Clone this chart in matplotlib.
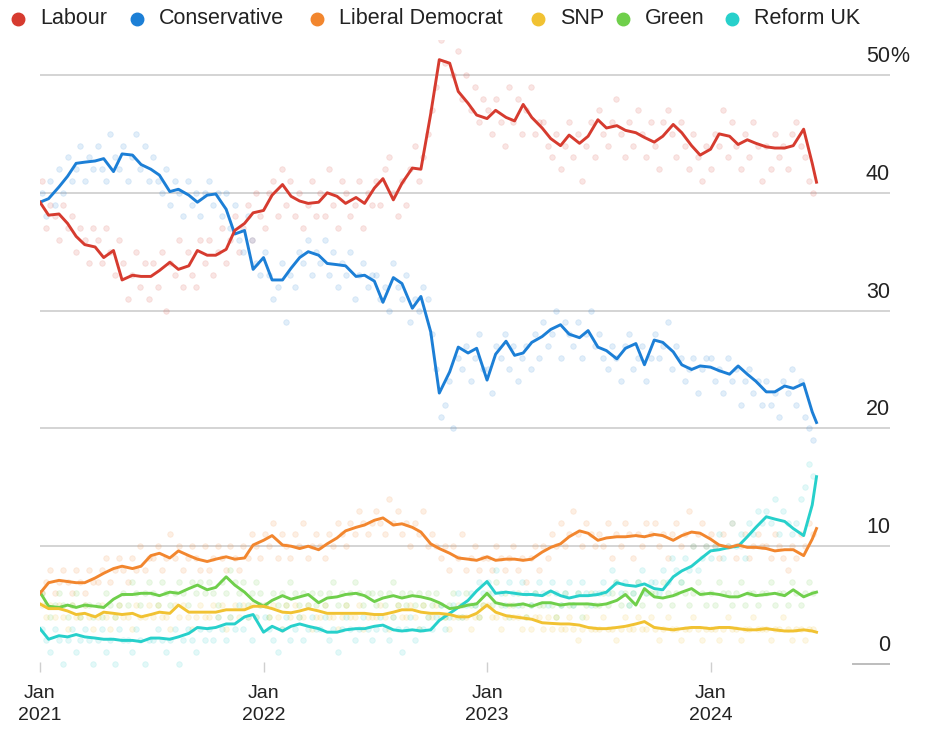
import matplotlib.pyplot as plt
import matplotlib.transforms as mtransforms
import pandas as pd

plt.rcParams['font.family'] = ['Liberation Sans', 'DejaVu Sans']

# semi-monthly readings of the polling averages, plus the final day
dates = list(pd.date_range('2021-01-01', '2024-06-15', freq='SMS')) + [pd.Timestamp('2024-06-22')]

labour = [39.2, 38.1, 38.2, 37.4, 36.3, 35.6, 35.4, 34.5, 35.1, 32.6, 33.0, 32.9, 32.9, 33.4,
          34.1, 33.5, 33.8, 35.1, 34.7, 34.7, 35.2, 36.8, 37.4, 38.3, 38.5, 39.8, 40.7, 39.7,
          39.3, 39.1, 39.2, 40.0, 39.7, 39.1, 39.6, 39.1, 40.4, 41.2, 39.4, 40.8, 42.1, 42.0,
          46.7, 51.3, 51.0, 48.6, 47.6, 46.6, 46.3, 47.0, 46.4, 46.1, 47.5, 46.4, 45.5,
          44.6, 44.0, 44.9, 44.2, 44.8, 46.2, 45.5, 45.7, 45.3, 45.1, 44.7, 44.3, 44.8, 45.8,
          45.1, 44.0, 43.2, 43.7, 45.0, 44.8, 44.1, 44.5, 44.2, 43.9, 43.8, 43.8, 44.0, 45.4,
          42.5, 40.9]
conservative = [39.2, 39.5, 40.5, 41.4, 42.5, 42.6, 42.7, 42.9, 41.8, 43.3, 43.2, 42.4, 42.0, 41.5,
                40.1, 40.3, 39.8, 39.2, 39.8, 39.9, 38.6, 36.5, 36.8, 33.5, 34.5, 32.6, 32.6, 33.6,
                34.5, 35.0, 34.7, 34.0, 33.9, 33.8, 32.9, 33.0, 32.5, 30.7, 32.8, 32.3, 30.2, 31.2,
                28.2, 23.0, 24.8, 26.9, 26.4, 26.8, 24.1, 26.3, 27.4, 26.2, 26.4, 27.3, 27.8,
                28.4, 28.8, 28.0, 27.7, 28.3, 26.9, 26.6, 25.9, 26.8, 27.2, 25.4, 27.5, 27.3, 26.5,
                25.4, 25.0, 25.3, 25.2, 24.9, 24.6, 25.3, 24.6, 24.0, 23.1, 23.1, 23.6, 23.4, 23.8,
                21.4, 20.5]
lib_dem = [6.0, 6.9, 7.1, 7.0, 6.9, 6.9, 7.3, 7.7, 8.1, 8.3, 8.1, 8.3, 9.2, 9.4,
           9.0, 9.6, 9.2, 8.9, 8.7, 8.9, 9.1, 8.9, 9.0, 10.1, 10.5, 10.9, 10.1, 10.0,
           9.8, 10.0, 9.7, 10.2, 10.7, 11.3, 11.6, 11.8, 12.2, 12.4, 11.8, 11.9, 11.6, 11.2,
           10.2, 9.8, 9.4, 9.0, 8.9, 8.8, 9.1, 8.8, 8.9, 8.9, 8.8, 8.9, 9.5,
           9.9, 10.2, 10.8, 11.3, 11.1, 10.5, 10.7, 10.8, 10.8, 10.9, 10.8, 11.0, 10.9, 10.5,
           10.9, 11.2, 11.1, 10.6, 10.1, 9.9, 10.1, 9.9, 9.9, 9.8, 9.6, 9.7, 9.7, 9.2,
           10.6, 11.5]
snp = [5.1, 4.7, 4.7, 4.5, 4.2, 4.3, 4.0, 4.4, 4.3, 4.2, 4.3, 4.0, 4.2, 4.4,
       4.3, 5.0, 4.4, 4.4, 4.4, 4.4, 4.6, 4.6, 4.6, 4.9, 4.9, 4.7, 4.4, 4.35,
       4.5, 4.7, 4.5, 4.3, 4.3, 4.3, 4.3, 4.3, 4.2, 4.2, 4.4, 4.6, 4.6, 4.4,
       4.3, 4.3, 4.2, 4.0, 4.0, 4.3, 5.0, 4.4, 4.1, 4.0, 3.9, 3.8, 3.5,
       3.45, 3.4, 3.4, 3.3, 3.1, 3.0, 3.0, 3.1, 3.2, 3.4, 3.6, 3.1, 3.0, 2.9,
       3.0, 3.1, 3.1, 3.0, 3.1, 3.1, 3.0, 2.9, 2.9, 3.0, 2.9, 2.8, 2.8, 2.9,
       2.8, 2.7]
green = [6.1, 4.9, 4.8, 5.0, 4.8, 5.0, 4.9, 4.8, 5.5, 5.9, 5.9, 6.0, 6.0, 5.8,
         6.1, 6.0, 6.4, 6.7, 6.3, 6.5, 7.4, 6.7, 6.1, 5.4, 4.9, 5.4, 5.8, 5.5,
         5.7, 5.9, 5.2, 5.6, 5.7, 5.9, 6.0, 5.8, 5.3, 5.6, 5.8, 5.6, 5.8, 5.7,
         5.5, 5.2, 4.7, 4.8, 5.0, 5.1, 6.0, 5.2, 5.0, 5.0, 5.1, 4.9, 5.2,
         5.2, 5.0, 5.1, 5.1, 5.1, 5.0, 5.1, 5.4, 5.9, 5.0, 6.4, 5.7, 5.6, 5.8,
         6.1, 6.4, 5.9, 6.0, 5.9, 5.7, 5.7, 6.0, 5.8, 5.9, 6.0, 5.8, 6.3, 5.7,
         6.0, 6.1]
reform = [3.0, 2.1, 2.4, 2.3, 2.5, 2.3, 2.2, 2.1, 2.1, 2.0, 2.0, 1.9, 2.2, 2.2,
          2.1, 2.3, 2.6, 3.1, 3.0, 3.1, 3.4, 3.4, 4.0, 4.2, 2.7, 3.2, 2.8, 3.2,
          3.4, 3.2, 3.0, 2.7, 2.7, 2.9, 3.0, 3.0, 3.2, 3.3, 2.9, 2.8, 2.9, 2.8,
          2.9, 3.7, 4.3, 4.8, 5.4, 6.2, 7.0, 6.0, 6.1, 6.0, 5.9, 5.9, 5.8,
          6.2, 5.8, 5.6, 5.8, 5.8, 5.9, 6.1, 6.9, 6.7, 6.6, 6.8, 6.4, 6.3, 7.4,
          7.9, 8.3, 8.9, 9.6, 9.7, 9.9, 10.0, 10.8, 11.6, 12.5, 12.3, 12.1, 11.5, 10.9,
          13.5, 15.9]

# individual polls, one per week, rows of 13 weeks (a quarter)
poll_dates = pd.date_range('2021-01-04', periods=181, freq='7D')
labour_polls = [
    41, 37, 39, 38, 36, 39, 37, 38, 35, 37, 36, 34, 37,
    36, 34, 37, 35, 33, 36, 34, 31, 33, 35, 32, 34, 31,
    34, 32, 35, 30, 34, 33, 36, 32, 35, 33, 32, 36, 34,
    36, 33, 35, 37, 34, 36, 38, 35, 37, 39, 36, 40, 38,
    37, 40, 41, 38, 42, 39, 41, 38, 40, 37, 39, 41, 38,
    40, 38, 42, 39, 37, 41, 40, 38, 39, 41, 37, 40, 39,
    41, 39, 42, 43, 40, 38, 41, 39, 42, 44, 41, 43, 45,
    47, 49, 53, 51, 54, 50, 52, 48, 50, 47, 49, 46, 48,
    47, 45, 48, 46, 44, 49, 46, 48, 45, 47, 49, 45, 46,
    46, 44, 43, 45, 42, 44, 46, 43, 45, 41, 44, 46, 43,
    47, 45, 44, 46, 48, 45, 43, 46, 44, 47, 45, 43, 46,
    44, 42, 46, 47, 45, 43, 46, 44, 42, 45, 43, 41, 44,
    42, 45, 44, 47, 43, 46, 44, 42, 45, 43, 46, 44, 41,
    44, 42, 45, 43, 44, 42, 45, 46, 44, 43, 41, 40]
conservative_polls = [
    40, 38, 41, 39, 42, 40, 43, 41, 42, 44, 41, 43, 42,
    44, 42, 41, 45, 43, 42, 44, 41, 43, 45, 42, 44, 41,
    43, 41, 40, 42, 39, 41, 40, 38, 41, 39, 40, 38, 40,
    41, 39, 40, 38, 40, 37, 39, 36, 35, 38, 36, 34, 33,
    35, 33, 31, 32, 34, 29, 33, 32, 35, 34, 36, 33, 35,
    34, 36, 33, 35, 32, 34, 33, 35, 31, 33, 34, 32, 33,
    33, 31, 32, 30, 34, 32, 31, 33, 29, 31, 30, 32, 31,
    28, 25, 21, 22, 24, 20, 26, 25, 27, 24, 26, 28, 25,
    25, 23, 27, 26, 28, 25, 27, 24, 26, 27, 25, 28, 26,
    29, 27, 28, 30, 26, 29, 28, 27, 29, 26, 28, 30, 27,
    28, 26, 25, 27, 26, 24, 27, 28, 25, 26, 27, 24, 26,
    28, 26, 27, 29, 25, 27, 26, 24, 25, 26, 23, 25, 26,
    26, 24, 25, 23, 26, 24, 25, 22, 24, 25, 23, 24, 22,
    24, 22, 23, 21, 24, 23, 25, 22, 24, 21, 20, 19]
lib_dem_polls = [
    6, 7, 8, 6, 7, 8, 7, 6, 8, 7, 6, 8, 7,
    7, 8, 9, 7, 8, 9, 8, 7, 9, 8, 10, 8, 9,
    9, 10, 8, 9, 11, 9, 10, 8, 9, 10, 9, 8, 10,
    8, 9, 10, 9, 8, 10, 9, 8, 10, 9, 11, 10, 9,
    11, 10, 12, 9, 11, 10, 9, 11, 10, 12, 9, 10, 11,
    10, 9, 11, 10, 12, 11, 10, 12, 11, 13, 12, 11, 12,
    13, 12, 11, 14, 12, 13, 11, 12, 10, 12, 11, 13, 10,
    11, 10, 9, 10, 8, 10, 9, 11, 8, 9, 10, 8, 9,
    9, 8, 10, 9, 8, 9, 10, 8, 9, 7, 9, 10, 8,
    10, 9, 11, 10, 12, 10, 11, 13, 11, 10, 12, 11, 10,
    11, 10, 12, 9, 11, 10, 12, 11, 9, 11, 10, 12, 11,
    12, 10, 11, 9, 11, 12, 10, 11, 13, 10, 11, 12, 10,
    11, 10, 9, 11, 10, 12, 9, 10, 11, 9, 10, 11, 10,
    10, 9, 11, 10, 9, 8, 10, 9, 11, 10, 12, 11]
snp_polls = [
    5, 4, 5, 4, 5, 4, 3, 5, 4, 4, 5, 4, 3,
    4, 5, 4, 3, 4, 5, 4, 4, 3, 5, 4, 4, 5,
    4, 5, 4, 4, 3, 5, 4, 5, 4, 3, 4, 5, 4,
    4, 5, 4, 5, 3, 4, 5, 4, 5, 4, 5, 4, 5,
    5, 4, 5, 4, 3, 5, 4, 5, 4, 4, 5, 3, 4,
    4, 5, 4, 4, 3, 4, 5, 4, 4, 5, 3, 4, 4,
    4, 5, 4, 3, 4, 5, 4, 4, 5, 4, 3, 5, 4,
    4, 5, 4, 4, 3, 4, 5, 4, 4, 3, 4, 4, 5,
    5, 4, 4, 3, 4, 5, 4, 4, 3, 4, 3, 4, 4,
    3, 4, 3, 4, 3, 3, 4, 3, 2, 3, 4, 3, 3,
    3, 4, 3, 3, 2, 3, 4, 3, 3, 4, 3, 3, 4,
    3, 2, 3, 4, 3, 3, 2, 3, 3, 4, 3, 2, 3,
    3, 3, 2, 3, 4, 3, 3, 2, 3, 3, 4, 3, 3,
    3, 2, 3, 3, 4, 3, 2, 3, 3, 2, 3, 3]
green_polls = [
    6, 5, 4, 5, 6, 5, 4, 5, 6, 4, 5, 5, 4,
    5, 4, 6, 5, 4, 5, 6, 5, 7, 6, 5, 6, 7,
    6, 5, 7, 6, 5, 6, 7, 6, 5, 7, 6, 7, 6,
    7, 6, 5, 7, 6, 8, 7, 6, 7, 5, 6, 7, 6,
    5, 4, 6, 5, 6, 5, 7, 6, 5, 6, 5, 6, 5,
    6, 5, 6, 7, 5, 6, 5, 6, 7, 6, 5, 6, 6,
    5, 6, 5, 6, 7, 5, 6, 5, 6, 5, 6, 5, 6,
    5, 6, 5, 4, 5, 6, 4, 5, 6, 5, 5, 4, 5,
    6, 5, 7, 5, 6, 4, 5, 6, 5, 4, 5, 6, 5,
    5, 6, 5, 4, 5, 6, 5, 5, 6, 4, 5, 6, 5,
    5, 6, 5, 6, 7, 5, 6, 5, 6, 7, 5, 6, 6,
    6, 5, 7, 6, 5, 6, 7, 6, 5, 6, 7, 6, 5,
    6, 5, 7, 6, 6, 5, 6, 7, 5, 6, 6, 5, 6,
    6, 7, 5, 6, 6, 5, 7, 6, 5, 6, 7, 6]
reform_polls = [
    3, 2, 1, 3, 2, 0, 2, 3, 1, 2, 3, 2, 0,
    2, 3, 1, 2, 0, 3, 2, 2, 1, 3, 2, 0, 2,
    2, 3, 2, 1, 2, 3, 0, 2, 3, 2, 1, 3, 2,
    3, 2, 4, 3, 2, 4, 3, 5, 3, 4, 2, 4, 5,
    4, 3, 2, 1, 3, 4, 2, 3, 4, 2, 3, 4, 3,
    3, 4, 2, 3, 1, 3, 4, 3, 2, 3, 4, 3, 2,
    3, 4, 3, 2, 4, 3, 1, 3, 4, 2, 3, 3, 4,
    3, 4, 5, 3, 4, 5, 6, 4, 5, 6, 5, 7, 6,
    7, 6, 8, 6, 5, 7, 6, 5, 7, 6, 5, 6, 7,
    6, 5, 7, 6, 5, 6, 7, 5, 6, 7, 6, 5, 6,
    6, 7, 6, 8, 7, 6, 7, 5, 6, 7, 8, 6, 7,
    7, 6, 8, 7, 9, 8, 7, 9, 8, 10, 8, 9, 10,
    9, 10, 11, 9, 10, 12, 10, 11, 9, 12, 11, 13, 12,
    13, 12, 14, 11, 13, 12, 11, 12, 14, 15, 17, 16]

parties = ['Labour', 'Conservative', 'Liberal Democrat', 'SNP', 'Green', 'Reform UK']
series = [labour, conservative, lib_dem, snp, green, reform]
polls = [labour_polls, conservative_polls, lib_dem_polls, snp_polls, green_polls, reform_polls]
colors = ['#d63b2f', '#1c7fd6', '#f2862e', '#f1c232', '#6fcf4b', '#27d0cb']

fig = plt.figure(figsize=(9.39, 7.31), dpi=100)
W, H = 939, 731
ax = fig.add_axes([40 / W, 1 - 672 / H, 850 / W, 632 / H])
ax.set_xlim(pd.Timestamp('2021-01-01'), pd.Timestamp('2024-10-20'))
ax.set_ylim(-0.68, 52.97)

for v in [10, 20, 30, 40, 50]:
    ax.axhline(v, color='#d4d4d4', lw=1.4, zorder=0)
ax.axhline(0, xmin=0.957, xmax=1.0, color='#bdbdbd', lw=1.4, zorder=0)

# faint poll dots first, then the averages
for pv, c in zip(polls, colors):
    ax.scatter(poll_dates[:len(pv)], pv, s=16, facecolor=c, edgecolor=c, alpha=0.13,
               linewidths=0.6, zorder=1)

for name, vals, c in reversed(list(zip(parties, series, colors))):
    ax.plot(dates, vals, color=c, lw=2.1, zorder=3, solid_joinstyle='round')

for s in ax.spines.values():
    s.set_visible(False)
ax.set_yticks([])
ticks = [pd.Timestamp(f'{y}-01-01') for y in [2021, 2022, 2023, 2024]]
ax.set_xticks(ticks)
ax.set_xticklabels([f'Jan\n{y}' for y in [2021, 2022, 2023, 2024]], fontsize=14,
                   linespacing=1.4, color='#222222')
ax.tick_params(axis='x', direction='in', length=7, width=1, color='#cfcfcf', pad=9)

# right side value labels, sitting above each gridline
off = mtransforms.offset_copy(ax.transData, fig=fig, x=0, y=8, units='dots')
yl_tr = mtransforms.blended_transform_factory(ax.transAxes, off)
for v in [0, 10, 20, 30, 40, 50]:
    ax.text(1.0, v, str(v), transform=yl_tr, ha='right', va='bottom', fontsize=15.5,
            color='#222222')
ax.text(1.0, 50, '%', transform=yl_tr, ha='left', va='bottom', fontsize=15.5, color='#222222')

# legend row across the top
leg_x = [18, 137, 317, 538, 623, 732]
for name, c, lx in zip(parties, colors, leg_x):
    fig.lines.append(plt.Line2D([lx / W], [1 - 19 / H], marker='o', markersize=9, color=c,
                                transform=fig.transFigure, linestyle='none'))
    fig.text((lx + 22) / W, 1 - 19 / H, name, ha='left', va='center', fontsize=15.5,
             color='#222222')

fig.savefig('out.png', dpi=100)
